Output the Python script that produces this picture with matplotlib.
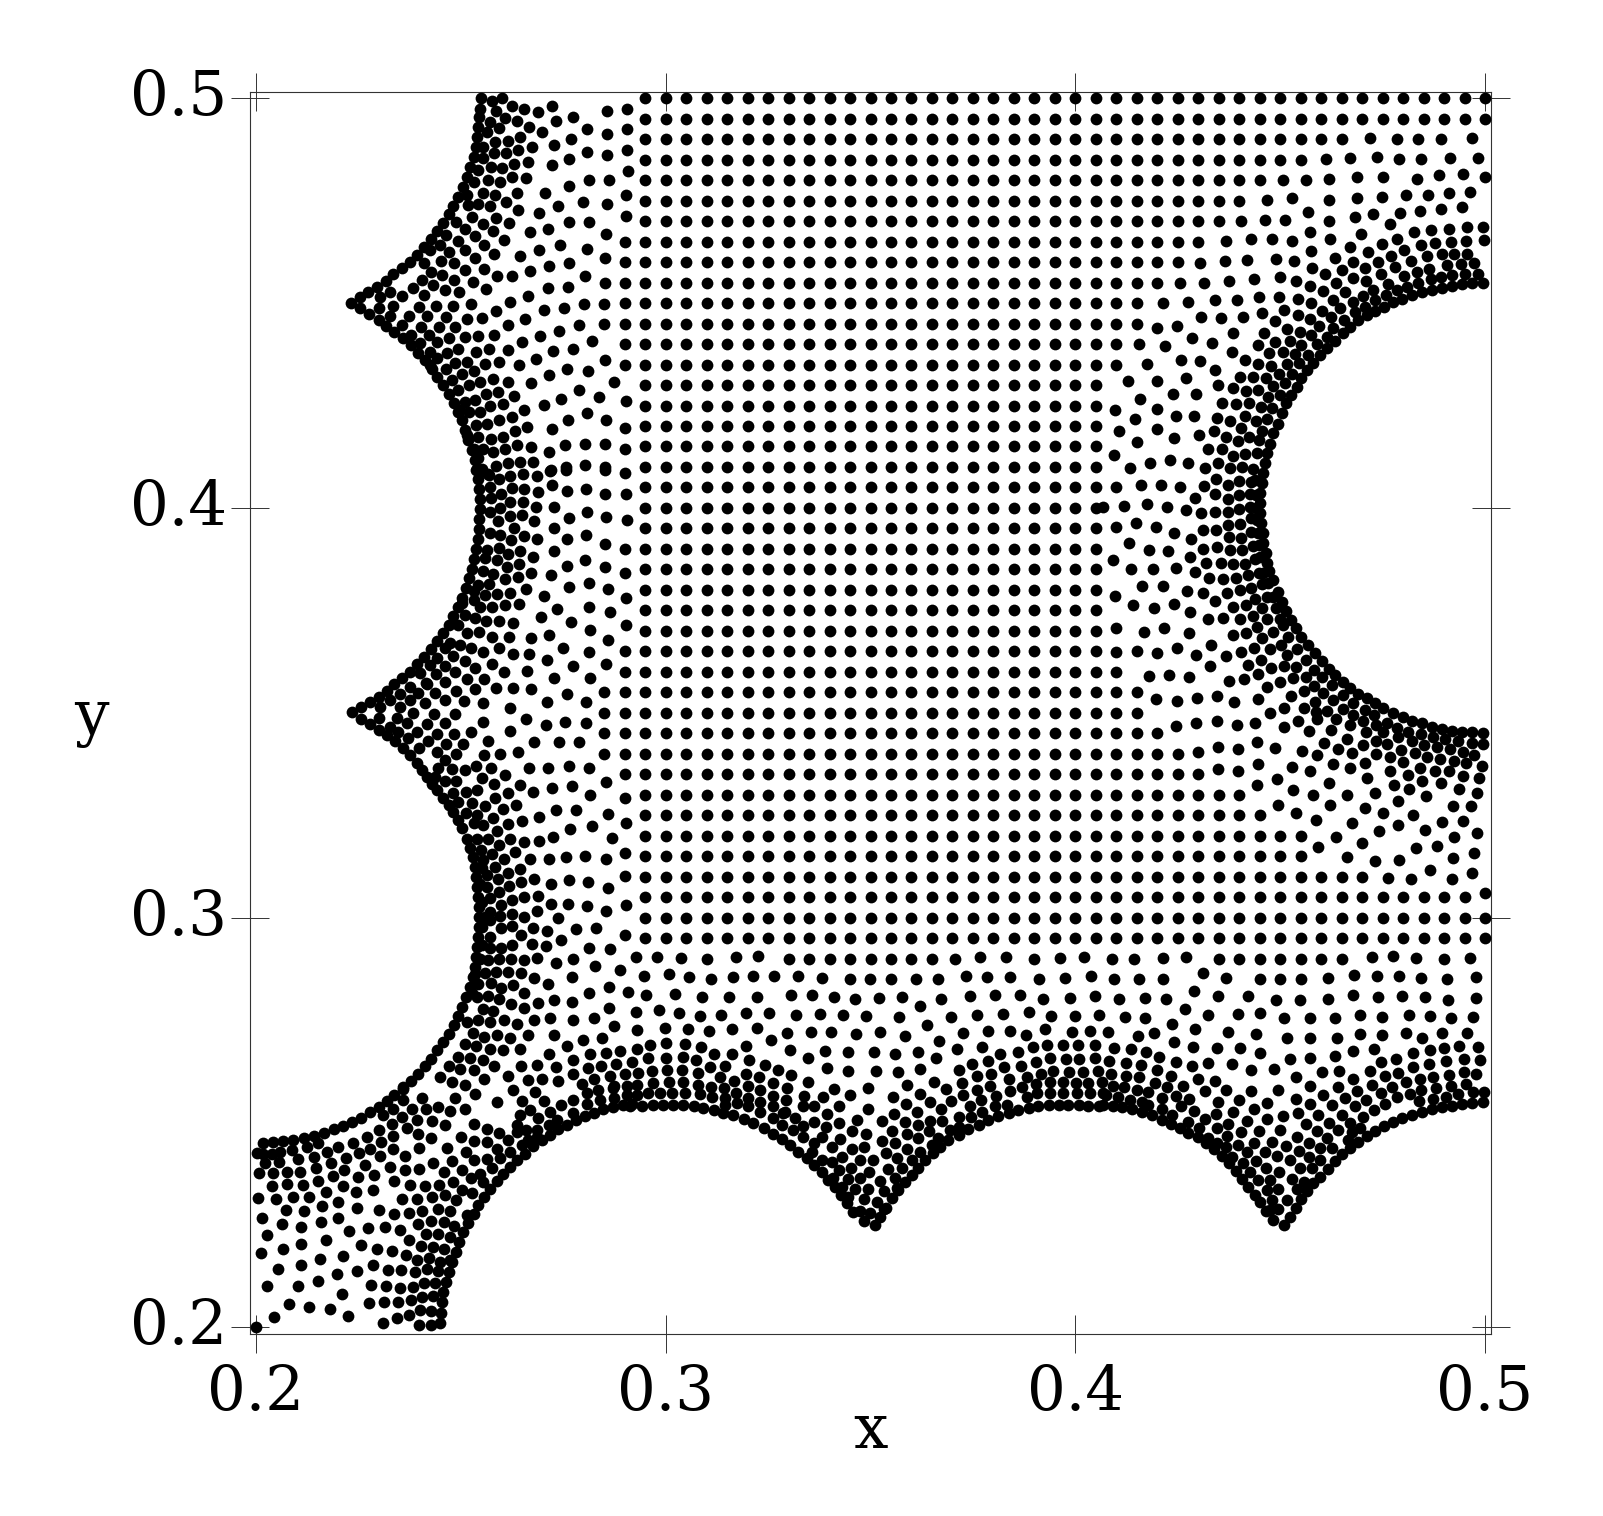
import numpy as np
import matplotlib
matplotlib.use("Agg")
import matplotlib.pyplot as plt

# all coordinates below are in thousandths of an axis unit

# the regular part of the point cloud: one row per y, filled from first to last column
lattice_x = [285, 290, 295, 300, 305, 310, 315, 320, 325, 330, 335, 340, 345, 350, 355, 360, 365, 370, 375, 380, 385, 390,
             395, 400, 405, 410, 415, 420, 425, 430, 435, 440, 445, 450, 455, 460, 465, 470, 475, 480, 485, 490, 495, 500]
lattice_y = [500, 495, 490, 485, 480, 475, 470, 465, 460, 455, 450, 445, 440, 435, 430, 425, 420, 415, 410, 405, 400,
             395, 390, 385, 380, 375, 370, 365, 360, 355, 350, 345, 340, 335, 330, 325, 320, 315, 310, 305, 300, 295]
row_first = [295, 295, 295, 295, 295, 295, 295, 290, 290, 290, 290, 290, 290, 290, 295, 295, 295, 295, 295, 295, 295,
             295, 295, 295, 295, 295, 295, 290, 290, 285, 285, 285, 285, 290, 295, 295, 295, 295, 295, 295, 295, 295]
row_last = [500, 500, 465, 455, 445, 440, 435, 430, 425, 420, 415, 415, 410, 410, 405, 405, 405, 405, 405, 405, 405,
            405, 405, 405, 405, 405, 405, 405, 405, 415, 415, 420, 425, 430, 440, 445, 455, 455, 470, 495, 500, 500]

# flat x, y, x, y ... lists, one per part of the picture
row_290 = [330, 290, 335, 290, 340, 290, 345, 290, 350, 290, 355, 290, 360, 290, 365, 290,
           435, 290, 440, 290, 445, 290, 450, 290, 455, 290, 460, 290, 465, 290]

right_upper = [
    471.9, 490.2, 478.6, 490, 483.7, 490, 489.3, 490, 496.8, 490.2, 461.1, 485.1, 467.1, 485.4, 473.7, 485.7, 479.1, 485.2,
    484.4, 485.2, 491.4, 485.4, 498.2, 485.5, 450.6, 480, 456.2, 480.1, 461.8, 480.2, 468.8, 480.7, 475, 480.9, 483.5, 480.2,
    488.8, 481.2, 494.6, 481.6, 499.9, 480.7, 446.9, 475.2, 453, 475.6, 462, 475.1, 468.8, 475.7, 474.8, 475.9, 480.6, 476.4,
    486.2, 476.3, 491.1, 477, 496.4, 477.2, 440.5, 470, 446.3, 470.3, 451.3, 470.4, 456.8, 472.2, 462, 470.1, 468.2, 471.1,
    472.7, 471.7, 479.3, 472.1, 484.1, 472.5, 489.2, 473, 494.4, 473.4, 436.7, 465.2, 442.9, 465.6, 447.9, 465.6, 452.8, 465.1,
    457.3, 467.3, 462.2, 465.6, 469.8, 466.9, 476.9, 469.2, 482.6, 467.3, 486.7, 467.8, 491.1, 468.2, 495.7, 468.6, 499.4, 468.7,
    430.4, 459.9, 436.5, 460.2, 441.9, 460.6, 448.9, 460.8, 453.5, 460.3, 457.6, 462.8, 463.4, 461.1, 467.1, 463.6, 471.5, 462.5,
    474.9, 464.4, 478.4, 465.7, 484.5, 464.3, 487.7, 464.6, 491.6, 464.9, 495.4, 465.1, 499.8, 465.4, 425.5, 455, 431.3, 455,
    437.4, 455.3, 443.7, 456, 449.9, 456.3, 453.9, 455.5, 457.8, 458.6, 461, 457, 465, 458, 467.8, 460.1, 470.7, 458.5,
    473.8, 460, 477, 461.6, 480.2, 462.9, 481.9, 460.2, 485.9, 461.4, 489.4, 462, 492.4, 462, 495.7, 462.1, 457.3, 454.2,
    463.7, 454.9, 467.9, 456.2, 471, 455.5, 474.5, 457, 478, 458.7, 483.5, 457.7, 486.4, 458.4, 490.8, 459.3, 494.2, 459.6,
    497.3, 459.7, 460.4, 452.9, 465.9, 452.6, 470.3, 451.8, 472.7, 453.2, 476.3, 454.6, 480.2, 456.6, 483.7, 455, 486.7, 455.8,
    489.2, 456.3, 492, 456.8, 495.1, 457.1, 498.4, 457.2, 478.4, 453.2, 480.9, 454, 475.8, 451.9, 473.2, 450.7, 470.7, 449.1,
    467.9, 450.3, 468.3, 447.9, 444.8, 451.6, 449.7, 451.6, 454.3, 450.9, 457.5, 450.1, 462.8, 450.7, 464.6, 448.7, 460.1, 448.1,
    462.4, 446.5, 465.6, 446, 457.3, 446.2, 454.4, 447.2, 451, 448.3, 445.6, 447.5, 448.8, 445.7, 441, 446.6, 435.6, 446.3,
    430.7, 446.7, 421.5, 450.1, 427.4, 450.3, 434.1, 450.8, 439.4, 450.8, 419.9, 444, 424.9, 444.5, 428.6, 441.5, 433.3, 440.3,
    438.6, 442.7, 415.6, 439.9, 422, 439.5, 438.3, 438, 444.5, 439.7, 446.1, 442.8, 451.7, 443.8, 454.8, 443, 459.6, 444.4,
    463, 444, 457.6, 442.3, 448.8, 440.6, 452.5, 440.7, 455.2, 439.7, 459.1, 440, 461.4, 441.8, 447.3, 437.8, 450.6, 438,
    453.6, 437.7, 456.9, 437.4, 441.5, 436.2, 444.7, 435.1, 447.8, 434.7, 451.6, 435.2, 454.6, 435.5, 417.4, 435.2, 425.7, 436.2,
    430.5, 435.8, 434.2, 433.6, 440.2, 432, 443.4, 432, 446.6, 431.8, 449.7, 432.6, 452.8, 432.8, 434.8, 430, 438.4, 429.2,
    441.7, 428.5, 444.7, 428.8, 448.3, 429.7, 451.2, 430.6, 447.1, 427.1, 450, 427.5, 435.9, 425.5, 439.2, 425.3, 442.4, 425.5,
    445.3, 424.7, 447.9, 424.3, 434.5, 422, 437.7, 421.3, 441.5, 422.5, 444, 421.2, 446.7, 421.6, 440.5, 419.6, 445.6, 418.8,
    433.8, 418.7, 436.8, 417.2, 439.8, 416.3, 442.4, 417.4, 444.9, 416.6, 432.5, 414.4, 435.9, 414.3, 438.6, 412.6, 441.4, 413.1,
    444.3, 413.3, 434.9, 411, 437.7, 409.8, 440.7, 409.9, 443.4, 409.6,
]

right_hole_edge = [
    499.4, 454.9, 496.8, 454.8, 494.3, 454.6, 491.9, 454.2, 489.4, 453.8, 487, 453.3, 484.6, 452.7, 482.1, 451.9, 479.8, 451.1,
    477.6, 450.3, 475.4, 449.1, 473.2, 448.1, 471.1, 447.1, 469.1, 445.9, 467.1, 444.2, 465.3, 442.6, 463.4, 440.7, 461.5, 439,
    459.7, 437.3, 458.1, 435.4, 456.6, 433.6, 455.2, 431.6, 454, 429.6, 452.6, 427.5, 451.4, 425.5, 450.4, 423.1, 449.5, 420.6,
    448.3, 418.2, 447.5, 415.7, 446.7, 413.3, 446.3, 410.9, 445.9, 408.5, 445.5, 406, 445.2, 403.6, 445.1, 401.1, 445.1, 398.7,
    445.4, 396.3, 445.7, 393.8, 445.9, 391.4, 446.5, 388.9, 446.7, 386.5, 447.3, 384.5, 448.3, 382.4, 449.4, 379.6, 450.4, 377.1,
    451.4, 374.9, 452.6, 372.7, 453.8, 370.6, 455.2, 368.6, 456.9, 366.5, 458.5, 364.5, 460.1, 362.6, 461.8, 360.8, 463.4, 359.2,
    465.3, 357.6, 467.1, 356, 469.1, 354.7, 471.1, 353.5, 473.2, 352.3, 475.2, 351.2, 477.6, 349.9, 479.9, 348.9, 482.3, 348.1,
    484.6, 347.5, 487, 346.6, 489.4, 346, 491.9, 345.5, 494.3, 345.3, 496.9, 345.2, 499.4, 345, 443.9, 406.8, 444, 403.2,
    444.1, 399.9, 444.3, 397, 444.7, 393.8, 444.9, 391, 445.1, 388.1, 445.9, 384, 447.1, 381.6, 448.3, 378.3, 449.1, 375.5,
    450, 373, 450.8, 371.4,
]

right_middle = [
    412.9, 430.9, 420, 431, 427, 431.6, 415.8, 426.7, 423.9, 427.9, 429.5, 427.8, 409.8, 423.8, 420, 424.2, 414.5, 421.8,
    424.6, 422.5, 429, 422.5, 410.6, 418.8, 419.9, 419.2, 415, 416.2, 424.1, 417, 430.2, 417.7, 409.5, 412.9, 418.3, 410.9,
    423, 411.6, 427.4, 410.9, 413.4, 409.8, 431.6, 409.8, 410, 405, 416, 405.5, 421, 405.7, 425.5, 405.1, 431.5, 405.3,
    429.2, 402.5, 406.8, 400.2, 411.9, 400.5, 417.6, 400.9, 422.4, 400.3, 427, 399.4, 410, 395.4, 414.9, 396.3, 419.8, 395.4,
    424.2, 394, 428.2, 392.3, 413.2, 391.5, 417.9, 389.7, 422.6, 389.4, 428.1, 388, 409.3, 387.4, 413.7, 385.2, 419, 385,
    424.5, 385.4, 429.2, 384.4, 416.3, 380.9, 421.5, 380.9, 427.2, 379.8, 431.2, 379.3, 409.7, 378.5, 414.1, 376.2, 419.1, 375.6,
    424, 376.5, 428.1, 374.5, 409.9, 370.7, 416.7, 369.7, 421.7, 370.6, 427.8, 369.5, 409.9, 364.9, 415, 365, 419.9, 364.7,
    424.8, 365.7, 429.4, 364.1, 433.2, 366.5, 436.8, 363.9, 409.9, 359.9, 417.9, 359.1, 422.9, 359.2, 427.8, 358.7, 432.9, 361.3,
    437.4, 357.8, 441.2, 358.2, 419.7, 353.4, 424.7, 352.9, 429.6, 353.7, 434.6, 354.2, 438.8, 352.6, 444.7, 353.4, 434.4, 407,
    437.3, 405.7, 440, 406.6, 442.9, 406.3, 434.2, 403.4, 437.3, 402.1, 439.9, 403.1, 442.6, 403.4, 434.1, 399.1, 430.7, 398.8,
    437.3, 399, 440, 399.7, 442.6, 400.2, 431.1, 394.7, 434.4, 394.6, 437.3, 395.8, 440.2, 396.1, 442.8, 397.5, 437.6, 392.8,
    440.4, 392.6, 442.8, 394.1, 431.2, 390, 434.7, 390.5, 437.7, 389.7, 440.6, 389.7, 443.3, 390.7, 432, 386.6, 435.5, 386.6,
    438.6, 386.2, 441.5, 386.4, 443.9, 387.5, 432.7, 383, 436.1, 382.7, 439.2, 382.9, 442.1, 383.6, 444.8, 384, 437, 379.3,
    440.2, 380, 443, 380.5, 445.6, 381.4, 434.2, 377.3, 438.4, 375.7, 441.6, 376.2, 443.9, 377.8, 446.7, 378.2, 445.6, 375.5,
    436, 373.2, 432.3, 372.8, 440.3, 373, 443.3, 373.7, 446.7, 372.8, 444.4, 370.9, 438.4, 369, 441.7, 369.4, 448.2, 369.6,
    445.6, 368.2, 452, 368.6, 443.5, 365.9, 440.4, 364.9, 447.5, 365.5, 450.2, 366.5, 454, 365.5, 451.7, 364.1, 445.3, 363,
    442.2, 361.7, 447.8, 361, 450.9, 361.3, 453.9, 361.2, 456.3, 362.9, 444.7, 359.5, 453.2, 358.4, 456.2, 358.8, 458.3, 360.4,
    460.1, 358.8, 446.9, 356.4, 450, 357.4, 458.2, 356.6, 455.7, 355.3, 460.5, 354.9, 452.6, 354.2, 463, 353.1, 458.6, 352.7,
    465.4, 354.3, 467.9, 352.3, 462.6, 356.8,
]

right_lower = [
    447.6, 349.9, 451, 351.2, 455.8, 351.1, 458.7, 350.2, 461.4, 350.5, 465.4, 350.9, 467.9, 349.5, 470.7, 350.7, 472.8, 349.5,
    454.4, 348.1, 458.9, 348.4, 463.6, 348.6, 470.3, 348.1, 467, 346.9, 473.3, 346.9, 476.2, 347.6, 478.4, 346.2, 481.3, 345.4,
    484.4, 344.9, 487.4, 344.2, 490.3, 343.6, 493.5, 343.2, 496.8, 342.6, 499.6, 342.4, 471, 345.2, 475.2, 345.2, 478.7, 344,
    482.1, 343, 485, 342.2, 488.2, 341.6, 491.5, 341.1, 494.6, 340.5, 497.3, 339.8, 424.6, 346.8, 429.5, 347.5, 434.5, 347.9,
    439.4, 347.1, 443.9, 347.6, 451, 346.6, 457, 345.5, 462.3, 345.7, 466.2, 343.7, 460.8, 342.7, 470.2, 342.2, 473.3, 343,
    476.2, 342.3, 479.5, 341, 482.8, 340.3, 485.8, 339.2, 489, 338.7, 492.4, 338.3, 429.9, 340.5, 434.8, 341.6, 439.8, 341.2,
    444.4, 342.9, 448.7, 341.4, 455.4, 340.6, 459, 339.6, 464, 341.1, 467.5, 340.2, 473.3, 339.9, 476.7, 339.1, 480.1, 338.1,
    476.8, 335.8, 481.1, 334.8, 484.1, 336.5, 487.8, 335.9, 491.1, 335.7, 495.4, 337.7, 499.3, 337, 434.9, 336.2, 439.8, 335.8,
    444.6, 337.4, 453, 336.8, 457.3, 335.7, 461.8, 332.9, 463, 337.6, 467.1, 336.5, 470.7, 337.7, 471.1, 334, 477.8, 332.4,
    481.5, 331.3, 484.7, 333.3, 489.2, 332.8, 494.6, 334.6, 498.5, 334, 444.4, 332.4, 449.2, 333.8, 453.2, 331.1, 458, 330,
    462.2, 327.4, 466.2, 330, 470.8, 326.7, 473.2, 330.4, 478.8, 328.5, 482.5, 325, 485.6, 329.7, 489.4, 323.4, 492.1, 327.2,
    496.6, 327.2, 494.6, 323.7, 498.1, 330.5, 493.7, 331.4, 449.4, 327.6, 453.9, 325.6, 458.7, 323.8, 467.5, 323, 475.2, 325.6,
    459.3, 317.3, 463.6, 319.8, 469.9, 318.3, 474.1, 321.2, 478.7, 322.5, 485.4, 321.3, 492.5, 319.6, 498.1, 320.6, 466.4, 314.7,
    473.1, 313.8, 478.9, 314.1, 483.1, 316.9, 488.4, 317.4, 492.2, 314.5, 497.3, 315.8, 476.4, 309.7, 481.9, 309.4, 486.6, 311.6,
    492, 309.4, 496.8, 310.8, 499.9, 306.1, 409, 290, 414.3, 290, 421.3, 290.2, 426.9, 290.3, 472.3, 290.5, 477.6, 290.6,
    483.2, 290.2, 490, 289.9, 496.4, 290.2, 409.4, 285, 415.5, 285.1, 421.3, 285.1, 431.2, 286.6, 436.9, 285.3, 445, 284.9,
    450, 284.9, 455, 284.9, 461.6, 285.2, 468, 286, 473.6, 285.8, 479.1, 285.8, 484.3, 285.3, 490.8, 285, 497.8, 285.4,
    410.6, 280.1, 416.9, 280.3, 422.2, 280.2, 428.9, 282.2, 434.8, 280.8, 442.1, 280.8, 448.9, 280, 454.9, 279.9, 461.7, 280.2,
    467.9, 281, 474, 280.7, 479.7, 280.9, 485.4, 280.5, 491, 280, 497.7, 280.3,
]

cusp_450 = [
    412.1, 275.8, 417, 275.5, 423.7, 274, 426.8, 277.6, 432.5, 276.3, 439.6, 276.5, 445.2, 276.6, 451, 275.5, 457.4, 275.5,
    463.3, 275.5, 469.5, 276.2, 474.9, 275.8, 481.5, 276.3, 486.5, 275.9, 491.8, 275.4, 497.1, 275.8, 415.4, 271.1, 419.2, 271.8,
    429.2, 272.8, 437.3, 272, 444.1, 271.7, 451.6, 270.5, 457.4, 270.5, 463.8, 270.5, 469.5, 271.5, 474.9, 271.3, 480.7, 271.9,
    484.6, 270.7, 489.5, 271.9, 495.5, 271.9, 409.4, 268.2, 413.5, 267.9, 417.2, 267.3, 424, 269.6, 428.8, 268.3, 434.7, 268.1,
    440.2, 268.2, 445.2, 266.9, 452.4, 265.6, 457.3, 265.7, 463.4, 266.1, 467.9, 267.4, 473, 267.9, 482.4, 266.9, 486.6, 267.6,
    490.1, 268.2, 493.7, 268.7, 498.4, 268.4, 408.3, 265, 412.4, 264.6, 416.1, 264.1, 420.5, 266, 424.6, 264.7, 428.6, 263.9,
    432.5, 264.5, 438.3, 264.2, 442.9, 262.8, 448.5, 263, 453.8, 261.1, 460.2, 262.4, 464.4, 262.6, 467.7, 260.7, 471.9, 262.6,
    474.6, 264.7, 478.3, 265.4, 482.5, 263.5, 486.3, 264.3, 490.6, 264.9, 494.9, 265.5, 498.8, 265.2, 408.7, 261.8, 412.3, 261.3,
    415.6, 261, 420, 262.7, 423.3, 261.4, 430, 260.6, 434, 260.2, 457.4, 258.8, 464, 258.6, 468.8, 257.7, 472.3, 259.2,
    475.6, 261.3, 478.7, 262.1, 484.1, 260.7, 487.3, 261.2, 491.1, 261.7, 494.9, 262.3, 497.7, 261.8, 409.1, 258.9, 412, 258.6,
    415.1, 257.9, 419.5, 259.6, 422.3, 258.6, 426.4, 258.9, 431.7, 257.7, 436.8, 257.9, 442.9, 257.7, 449.5, 257.8, 460.5, 256.7,
    465.8, 255.9, 471, 255.4, 474.7, 257.2, 477.4, 258.7, 480.8, 259.8, 484.3, 257.9, 488.1, 258.5, 491.6, 259, 495.3, 259.5,
    417.8, 257.4, 421.2, 255.9, 424.5, 256.5, 427.8, 255.8, 434.9, 255, 439.9, 255.6, 446.9, 254.7, 453.8, 255.8, 457.4, 254.6,
    462.7, 254.2, 468.3, 253.9, 475.6, 254.4, 478.4, 256.1, 481.7, 257, 484, 255.3, 487.4, 255.8, 490.5, 256.3, 493.5, 256.9,
    497, 257.5, 499.8, 257.5, 499.4, 255, 496.8, 254.7, 494.3, 254.4, 491.9, 254, 489.4, 253.7, 487, 253.3, 484.6, 252.6,
    482.1, 251.8, 479.8, 251, 477.6, 250.2, 475.4, 249.1, 473.2, 247.9, 471.1, 246.7, 469.1, 245.3, 467.1, 243.7, 465, 242.3,
    463.4, 240.7, 461.6, 238.6, 459.7, 236.8, 458.1, 235.1, 456.6, 233.3, 455.2, 231.3, 453.8, 229, 452.4, 227, 451, 224.9,
    448.2, 226.1, 446.5, 228.5, 445.2, 230.5, 443.9, 232.3, 442.2, 234.3, 440.6, 236.3, 439.2, 238.2, 437.6, 240, 435.7, 241.8,
    433.8, 243.5, 431.9, 245, 429.9, 246.4, 427.6, 247.5, 425.5, 248.6, 423.3, 249.6, 421.1, 250.6, 418.8, 251.7, 416.3, 252.6,
    413.9, 253.3, 411.5, 253.7, 409.1, 254, 406.7, 254.3, 407.6, 256.7, 410.5, 256.3, 413.3, 255.6, 416.2, 255.1, 417.8, 254.3,
    421.1, 253.4, 423.5, 251.8, 425.7, 253.9, 429, 252.8, 427.6, 250.2, 431.6, 250.8, 434.3, 252, 438.4, 252.5, 443.7, 253.2,
    434.5, 248.6, 437.2, 249.6, 441.8, 250.3, 446.9, 250.8, 450.6, 251.6, 454.4, 252.2, 459.2, 251.7, 461.8, 249.8, 465, 251.8,
    467.1, 249.9, 470.1, 251.4, 472.8, 253, 430.1, 248.6, 432.5, 246.1, 437.1, 246.7, 440.4, 247.6, 444.9, 248, 450, 248.1,
    456.3, 249.5, 459.1, 248, 464, 248.2, 469.5, 248.6, 434.5, 244.9, 436.8, 244.1, 439.6, 244.5, 443.5, 245, 448, 245.3,
    451.4, 244.2, 454.2, 246.4, 457, 245.1, 461.4, 246.1, 466.6, 245.7, 467.5, 247.7, 438.2, 241.6, 441.8, 242.9, 446.3, 242.7,
    449.2, 241.9, 454.6, 243.1, 457.1, 241.6, 459.7, 243.7, 462.6, 243.7, 441, 240, 444.1, 240.6, 452.4, 240.8, 459.7, 240.8,
    442.6, 238, 446.5, 238.8, 449.7, 237.8, 454.8, 239, 457.7, 238.8, 444.7, 235.9, 447.5, 235.9, 452.8, 236.2, 455.8, 235.5,
    446.7, 233.5, 449.5, 233.7, 454, 233.7, 447.9, 231, 451.7, 231, 449.5, 228.9, 447.5, 228.6,
]

cusp_350 = [
    292.8, 290.5, 298, 290.3, 303.7, 290.1, 310.2, 289.9, 317.2, 290.5, 322.5, 290.7, 370.7, 289.9, 376.8, 290.3, 383, 290.3,
    389.8, 289.9, 396.3, 290.1, 402, 290.3, 294.6, 285.8, 300.7, 286.2, 305.6, 285.5, 311.1, 285, 316.5, 285.5, 321.4, 285.8,
    326.5, 285.8, 332.3, 285.7, 338.1, 285.3, 345, 285, 349.9, 285, 355, 285, 361.2, 285.1, 366.4, 285.1, 373.3, 285.7,
    378.4, 285.6, 384.1, 285.4, 391.1, 285.1, 397.5, 285.2, 403.8, 285.8, 295.2, 281, 302.3, 281.4, 308.9, 280.6, 315.4, 280.7,
    322.3, 280.7, 330.5, 281.1, 335.6, 281, 341.1, 280.6, 346.2, 280.1, 352, 280.4, 357.6, 280.6, 362.2, 278.5, 367.3, 280.1,
    374.2, 280.8, 380.4, 281, 386.4, 281, 392, 280.2, 398.6, 280.4, 404.9, 280.8, 292.8, 277, 298.4, 277.4, 303.3, 276.8,
    308.3, 275.9, 313.5, 276.2, 319.5, 276.8, 325.2, 276.8, 331.8, 276.2, 337.6, 276.5, 343.2, 276.2, 349, 275.9, 356.9, 275.7,
    363.7, 273.8, 369.6, 275.8, 376, 276.2, 382.3, 276.5, 388.7, 276.9, 394.1, 276.1, 400, 275.9, 405.7, 276.2, 292.9, 272.6,
    299.9, 273, 305.5, 272.9, 310.5, 272.3, 316.3, 272.7, 322.2, 273.1, 329.7, 271.9, 335.5, 272.2, 340.3, 272, 346.4, 271.7,
    352.3, 272.2, 358.5, 271, 372.5, 271.9, 378.6, 272.4, 384, 272.4, 388, 271.4, 392.7, 272.7, 399.2, 272.2, 403.6, 272.4,
    407.9, 272, 325.7, 270.1, 366.6, 269.9, 292.9, 267.9, 296.2, 268.8, 300.1, 269.3, 304.8, 269.2, 308.6, 268.3, 311.8, 266.7,
    316.2, 266.8, 319.5, 268.7, 330.3, 267.7, 338.8, 267.5, 344.5, 267.1, 350.9, 267.3, 355.9, 266.8, 361.5, 267.3, 371.2, 267.9,
    377.3, 268.5, 381.6, 266.7, 386, 267.1, 389.7, 268.3, 393.1, 269, 397, 268.8, 400.6, 268.8, 404.7, 269, 291.7, 264.7,
    295.8, 265.7, 300, 265.8, 304.2, 265.9, 307.5, 265.2, 310.8, 263.6, 314.5, 263.9, 320.3, 265.3, 324.2, 264, 334.8, 265.7,
    365.9, 265.7, 374.7, 264.3, 378.6, 265.1, 382.5, 263.5, 386.7, 263.9, 390.4, 264.8, 393.8, 265.7, 397.6, 265.5, 401, 265.5,
    404.9, 265.7, 293.3, 262, 296.6, 262.5, 300.4, 262.8, 303.9, 262.8, 308, 262, 313.3, 261, 319.6, 261.9, 322.7, 261.1,
    327.5, 262.7, 330.7, 261.6, 339.3, 263.2, 344.4, 262.5, 351.3, 262.5, 356.6, 262.3, 362.2, 263.1, 371.6, 262.8, 376.1, 261.3,
    379.5, 261.8, 383.7, 260.5, 388.2, 261.2, 391.6, 261.9, 394.6, 262.6, 398.4, 262.4, 401.8, 262.4, 405.5, 262.6, 293.1, 259.1,
    296.8, 259.6, 300.7, 259.8, 304.3, 259.8, 308, 259.1, 311, 258.7, 314.3, 258.3, 316.7, 260, 320, 258.9, 323, 257.8,
    326.2, 259.6, 329.7, 258.3, 334.7, 259.8, 341.1, 258.1, 349.3, 258.5, 359, 259.1, 365.5, 259.9, 368.5, 258.1, 372.3, 259.6,
    376, 257.9, 379.1, 258.9, 386.9, 258.7, 390.4, 259.3, 393.9, 259.8, 397.1, 259.8, 400.2, 259.6, 403, 259.6, 406.5, 259.8,
    292.9, 256.7, 295.8, 257.1, 298.6, 257.1, 301.6, 257.3, 304.7, 257.3, 308.4, 257, 311.2, 256.3, 314.5, 255.9, 317.2, 257.1,
    320.2, 256, 323, 254.9, 326.3, 256.5, 329.4, 255.5, 333.7, 256.5, 338.3, 256.1, 344.9, 256.6, 355.5, 256.1, 362, 257,
    372.7, 256.7, 377, 255.6, 380.6, 256.5, 384.1, 257.7, 388.2, 256.3, 390.6, 257.1, 393.9, 257.1, 397.1, 257.1, 400.4, 257.1,
    403.5, 257.1, 406.7, 257.1, 291.3, 253.9, 294.1, 254.1, 297, 254.3, 299.4, 254.3, 301.9, 254.3, 304.3, 254.3, 306.8, 253.9,
    309.2, 253.6, 311.7, 253, 314.1, 252.4, 316.5, 251.8, 319, 250.8, 321.4, 249.8, 323.9, 248.6, 326.1, 247.3, 328.3, 245.9,
    330.4, 244.5, 332.4, 242.9, 334.4, 241.2, 336.1, 239.6, 338.1, 238, 339.7, 235.9, 341.4, 234.2, 342.7, 232.3, 344.2, 230.4,
    345.8, 228.2, 348.3, 226, 351.1, 225, 352.3, 227, 353.8, 229.2, 355.2, 231.5, 356.8, 233.5, 358.5, 235.5, 360.1, 237.2,
    361.7, 238.8, 363.3, 240.8, 365.2, 242.5, 367, 244.1, 369, 245.6, 371.5, 247, 373.9, 248.3, 376.4, 249.4, 378.8, 250.6,
    381.2, 251.6, 383.7, 252.4, 386.1, 253, 388.6, 253.6, 391, 254.1, 393.5, 254.3, 395.9, 254.3, 398.3, 254.3, 400.8, 254.3,
    403.2, 254.1, 405.7, 254, 314.5, 254.3, 317.3, 254.7, 320.2, 253.9, 323, 252.6, 326.3, 253.9, 329.2, 252.6, 333.6, 253.9,
    336.1, 253.9, 342.3, 253.9, 349.4, 253.2, 358.7, 254.6, 364.6, 254.9, 369.7, 255.2, 374.3, 253.9, 377.2, 252.6, 380.4, 253.9,
    383.3, 254.3, 326.3, 251, 331.6, 251, 328.7, 252.2, 336.2, 250, 339.3, 252.1, 346.7, 250.7, 355.8, 252.1, 361.3, 252.6,
    367.2, 253.2, 371.5, 251.4, 374.5, 251.4, 328.3, 249.4, 331, 248.2, 333.6, 249.2, 339.2, 249, 342.2, 249.8, 352.9, 250.4,
    358.5, 250.2, 361.5, 249.4, 364.6, 250.4, 367.4, 250.4, 371.5, 249, 333.6, 246.5, 336.1, 245.1, 338.1, 246.4, 342.6, 245.9,
    345.4, 247.8, 349, 247.3, 355.2, 247.9, 358.9, 247.3, 361.7, 246.1, 364.2, 248, 366.4, 246.1, 369.3, 248.2, 335.7, 242.9,
    340.5, 244.1, 345.4, 243.4, 348.5, 243.9, 352.8, 245.5, 356, 244.9, 358.9, 243.5, 362, 242.9, 365, 244.5, 338.1, 240.8,
    340.5, 240.4, 343, 241.6, 347.5, 240.8, 350.7, 240.8, 353.8, 242.6, 356.4, 241.2, 360.1, 240.8, 342.2, 238.4, 345.2, 239,
    349.7, 237.8, 354.2, 238.6, 357.6, 239, 340.9, 236.4, 344.6, 236.1, 347.5, 236.4, 352.4, 235.8, 356, 236.5, 343, 234.2,
    346.2, 233.7, 349.3, 233.7, 353.3, 233.3, 356.4, 233.9, 344.6, 231.9, 348.3, 231.2, 351.5, 230.5, 347.5, 228.4, 349.9, 228,
    353.2, 228.8,
]

left_hole = [
    255.1, 334.2, 260.8, 334.9, 258.2, 332.7, 264.5, 332.4, 272.2, 331.6, 277.1, 332.1, 285.4, 333.1, 253.9, 331.1, 251.3, 330.7,
    261.4, 330.5, 267.7, 330.6, 281.6, 329.9, 290, 329.1, 258.4, 329.2, 252.7, 327.9, 255.9, 327.3, 263.4, 327.5, 260.2, 326.5,
    273.3, 326.2, 278.1, 326.2, 285.9, 325.4, 251.3, 325.6, 253.9, 325, 257.9, 324.2, 269.2, 324.5, 264.9, 323.5, 261.6, 322.9,
    290.3, 323.1, 253.1, 323, 255.5, 322.6, 281.9, 322.3, 276.7, 321.6, 258.8, 321.1, 272.4, 319.8, 286.8, 319.5, 253.9, 319.3,
    256.6, 319.1, 262.1, 319.1, 265.4, 318.5, 269, 318.7, 259.3, 317.8, 254.9, 316.5, 257.5, 315.6, 263.1, 316, 275.7, 314.8,
    280.4, 315.1, 290.1, 315.8, 285.4, 314.2, 266.9, 314.2, 271.4, 314.3, 260.6, 314.3, 255.5, 314, 258.4, 312.3, 264.4, 311.9,
    261.5, 310.9, 256.3, 310.4, 290.1, 310.2, 267.8, 309.5, 276.4, 309.1, 259.1, 309.4, 272.1, 308.3, 281.1, 308.6, 264.6, 308.8,
    261.8, 307.7, 285.8, 307.3, 256.3, 307.5, 259.3, 306.2, 265.4, 305.1, 268.8, 305.2, 262.4, 304.3, 257.2, 304.7, 271.9, 303.4,
    276.1, 303.4, 280.7, 302.8, 290.3, 303.2, 259.7, 303.2, 285.5, 301.7, 268.7, 301.6, 262.6, 300.9, 265.5, 300.2, 259.6, 300.3,
    257.1, 301.4, 273.7, 299.9, 257.1, 299.4, 278.1, 297.2, 282.9, 297.4, 267.6, 297.5, 271.1, 296.8, 262.4, 297.9, 259.7, 297.5,
    264.8, 295.7, 290.1, 295.7, 257.1, 295.3, 274.5, 294.6, 267.3, 293.6, 270.8, 293, 262.6, 293.2, 259.7, 292.7, 257.1, 292.6,
    281.2, 292.6, 286.3, 292.4, 268.7, 290.2, 277.5, 289.8, 265.3, 289.6, 262.3, 289.9, 259.3, 289.9, 256.6, 289.6, 273.2, 288.8,
    282.8, 288.1, 288.9, 287.2, 261.5, 286.8, 258.6, 286.8, 255.9, 286.6, 264.6, 286.6, 267.9, 285.3, 277.2, 285.4, 262.8, 283.5,
    271.2, 283.7, 259.7, 282.9, 257.3, 284.1, 286.1, 283, 281.4, 281.5, 290.7, 281.9, 265.5, 281.5, 256.6, 280.8, 253.9, 280.6,
    259.3, 280.1, 272.8, 279.8, 268.9, 279.2, 277.1, 279.4, 262.3, 278.8, 265.5, 278, 286.1, 278, 255.3, 277.8, 257.9, 277.1,
    254.3, 275, 260.5, 275.1, 257.2, 274.4, 267.8, 275.1, 271.8, 275.4, 277.5, 275, 282.4, 275.6, 263.8, 274, 287.3, 273.6,
    251.4, 274.4, 252.9, 271.9, 258.8, 271.3, 255.6, 270.9, 261.9, 270.6, 266.3, 271.4, 272.8, 271.3, 279.9, 270.1, 284.4, 270.7,
    251, 269.1, 253.7, 268.6, 257, 268, 260.2, 267.6, 264.5, 268, 275.9, 268.7, 249.4, 266, 252.3, 265.8, 255.3, 265.3,
    271.4, 266.6, 277.5, 265.3, 281.6, 266.7, 285.4, 267, 288.8, 267.5, 247, 263.7, 249.9, 263.1, 253.2, 262.7, 258.2, 263.7,
    264.8, 263.7, 268.7, 264, 273.2, 263.6, 281.1, 263.3, 284.2, 263.8, 287.9, 264.2, 244.9, 261, 247.9, 259.9, 251, 259.1,
    255.7, 260.7, 261.5, 261.4, 266.3, 260.3, 269.7, 260.7, 273.6, 260, 277.5, 261.9, 282.6, 260.5, 286.4, 261.3, 290.1, 261.8,
    279.5, 259.5, 287.3, 258.8, 290.5, 259, 240.4, 336, 241.7, 334.4, 242.9, 332.7, 244.3, 331.1, 245.7, 329.3, 247, 327.5,
    248.2, 325.8, 249.4, 323.8, 250.4, 321.8, 251.4, 319.3, 252.3, 317.1, 252.9, 314.7, 253.4, 312.4, 253.7, 310, 254, 307.5,
    254.3, 305.1, 254.5, 302.6, 254.5, 300.2, 254.5, 297.7, 254.3, 295.3, 254, 292.9, 253.7, 290.4, 253.4, 288, 252.9, 285.5,
    252.3, 283.1, 251.3, 280.6, 250.4, 278.2, 249.4, 275.9, 248.3, 273.7, 247.1, 271.7, 245.7, 269.7, 244.3, 267.6, 242.7, 265.6,
    241.3, 263.7, 239.6, 261.9, 237.8, 260.1, 235.8, 258.7, 243.7, 334.4, 246.1, 333.4, 248.8, 333.4, 248.2, 330.5, 249.2, 328.3,
    255.1, 312.1, 254.7, 308.3, 255.1, 303.8, 255.9, 300.2, 255.1, 297.7, 255.1, 293.3, 254.7, 290, 253.5, 286.3, 254.3, 283.9,
    252.7, 281.5,
]

cusp_left_350 = [
    262.1, 407.9, 265.1, 408.2, 268.5, 407.9, 271.8, 408.9, 275.6, 409.3, 285.2, 409.3, 290.1, 408.6, 259.3, 407.1, 262.4, 404.9,
    265.5, 404.7, 268.8, 404, 272.2, 405.5, 275.9, 404.1, 280.5, 404.7, 285.3, 403.5, 290.3, 403.3, 257, 405.2, 259.8, 403.5,
    257.4, 402.4, 262, 401.5, 265.1, 401.4, 268.3, 400.2, 272.8, 400.2, 259.6, 399.9, 257.1, 399.1, 280.7, 399, 276.3, 397.6,
    261.9, 398.1, 264.9, 398.3, 285.5, 397.7, 290.5, 397.1, 259, 396.8, 267.9, 396.7, 262.9, 395.2, 272.8, 395, 257.1, 394,
    259.6, 393.4, 265.4, 393.2, 268.6, 392.4, 280.6, 393.3, 276, 392.3, 262.3, 392.2, 285.1, 391.2, 290, 390.1, 259.2, 390.3,
    272.8, 389.6, 264.5, 389.5, 261.5, 388.7, 256.3, 389.8, 267.6, 388.1, 255.9, 387.7, 258.8, 387.3, 280.4, 387.2, 275.8, 385.9,
    264.3, 386.3, 261.2, 385.6, 285.2, 385.6, 290.1, 384.2, 255.3, 384.5, 257.9, 383.8, 267.1, 384.1, 272.1, 383.7, 263.9, 383.1,
    260.7, 382.7, 254.3, 381.2, 256.8, 381.4, 281.2, 381.8, 276.4, 380.7, 265.8, 380.3, 285.9, 380.2, 253.1, 379.8, 255.9, 378.8,
    258.9, 379, 262, 379.2, 270.3, 378.4, 290.3, 378, 253.1, 377.6, 260.8, 376.2, 257.7, 375.8, 264.1, 376.5, 254.7, 375.8,
    273.4, 375.4, 281.4, 375.8, 286.3, 374.5, 269.5, 373.4, 253.5, 373.1, 256.2, 372.3, 259.3, 372.3, 262.7, 372, 276.8, 372.1,
    290.3, 371.4, 251.6, 369.4, 254.5, 369.6, 281.5, 370.1, 271.5, 369.1, 257.5, 368.6, 261.8, 368.6, 267.1, 368.3, 285.9, 367.7,
    249.8, 366.6, 252.6, 365.9, 259.4, 365.8, 275, 365.9, 255.5, 364.8, 262.7, 364.4, 266.7, 364.3, 281.4, 364.9, 246.1, 365.9,
    248.2, 363.9, 250.9, 362.7, 271, 363, 257.5, 362, 285.4, 361.9, 277.5, 361.4, 253.5, 361, 246.1, 361.4, 266.2, 360.2,
    260.6, 360, 248.6, 359.9, 243.9, 359.5, 281.6, 358.5, 272.8, 358.4, 251.4, 358.3, 255.7, 358.3, 246.1, 357.4, 241.5, 357.2,
    248.7, 355.4, 253.5, 355.7, 258.5, 356.1, 262.7, 356.1, 267.2, 355.7, 243.7, 354.9, 275.9, 354.5, 250.8, 352.9, 271.1, 352.7,
    280.6, 352.6, 246.1, 353, 255.3, 352.4, 241.3, 352.3, 262, 351.1, 237.6, 353.1, 235.2, 351.5, 238.4, 349.9, 243.5, 349.8,
    248.6, 349.6, 229.9, 348.7, 234.3, 348.8, 246.1, 347.4, 241.7, 347.2, 236.8, 347.4, 255.3, 347.7, 265.8, 348.4, 275.5, 347.7,
    280.6, 347.5, 270.7, 346.9, 262, 345.6, 252.5, 345.2, 239.2, 345.4, 234.7, 345.4, 244.1, 344.8, 248.3, 344.7, 237.2, 343.8,
    241.9, 343.1, 256.6, 343.2, 267.9, 342.8, 273.9, 342.9, 278.9, 342.8, 250.6, 342.3, 246.3, 342.4, 239.8, 341.3, 244.1, 340.5,
    259.5, 340, 263.9, 340.4, 248.8, 339.9, 255.7, 339.7, 246.2, 338.5, 276.3, 337.1, 281.2, 336.4, 271.3, 336.6, 266.7, 336.6,
    257.3, 336.6, 253.7, 337.1, 250.9, 336, 247.9, 336.3, 244.5, 336.4, 223.4, 350.2, 225.6, 351.3, 227.8, 352.6, 230, 353.9,
    231.9, 355.3, 233.7, 357, 235.6, 358.4, 237.6, 360, 239.4, 361.9, 241, 363.7, 242.7, 365.6, 244.3, 367.5, 245.7, 369.4,
    247, 371.4, 248.2, 373.7, 249.4, 375.9, 250.4, 378, 251.3, 380.4, 252.1, 382.8, 252.8, 385.1, 253.3, 387.5, 253.7, 389.9,
    254.1, 392.4, 254.4, 394.8, 254.5, 397.3, 254.7, 399.7, 254.7, 402.1, 254.4, 404.6, 254.1, 407, 253.7, 409.3, 225.6, 348.6,
    227.8, 347.3, 229.9, 345.8, 231.9, 344.6, 233.9, 343, 235.8, 341.5, 237.6, 339.7, 239.4, 337.8, 230.3, 351.5, 232.7, 353.1,
    235.2, 354.6, 237.6, 356.4, 239.6, 354.9, 241.7, 357, 244.3, 363.3, 240, 359.6, 242.5, 361.7, 247.4, 367, 249.4, 371.4,
    251, 373.9, 250.2, 376.7, 232.7, 346.6, 255.1, 408.9, 256.9, 408.1,
]

cusp_left_450 = [
    223.2, 450.1, 225.4, 451.4, 227.4, 452.6, 229.5, 454, 231.7, 455.4, 233.5, 457, 235.6, 458.5, 237.6, 460.1, 239.4, 461.7,
    241, 463.8, 242.6, 465.6, 244.3, 467.6, 245.6, 469.5, 247, 471.7, 248.2, 473.8, 249.4, 476, 250.5, 478.4, 251.4, 480.8,
    252.2, 483.3, 253.1, 485.7, 253.6, 488.2, 254, 490.6, 254.3, 493.1, 254.5, 495.5, 254.7, 497.5, 254.9, 500, 257.5, 499.4,
    260.1, 500, 225.4, 448.7, 227.6, 447.3, 229.9, 445.9, 231.7, 444.5, 233.7, 443, 235.8, 441.4, 237.8, 439.8, 239.5, 437.9,
    241.3, 436.1, 242.9, 434, 244.3, 432, 245.6, 430, 247.2, 427.9, 248.3, 425.7, 249.4, 423.5, 250.4, 421.4, 251, 419,
    251.8, 416.6, 252.7, 414.1, 253.5, 411.7, 253.9, 409.6, 258.6, 497, 262.5, 498.2, 265.5, 497.4, 268.9, 496.6, 272.2, 498,
    277.3, 495.5, 285.6, 496.9, 290.5, 497.5, 257, 494.3, 260.9, 495.2, 263.8, 494.5, 266.7, 493.1, 269.9, 491.7, 273.2, 494.4,
    280.8, 492.5, 285.7, 491.4, 290.5, 492.5, 259.4, 492.7, 256.3, 491.8, 264.4, 490.6, 258.4, 489.4, 261.4, 489.6, 272.7, 488.7,
    276.8, 490.1, 267.3, 488, 264, 487.4, 255.5, 488.2, 258.2, 486.6, 261, 486.6, 280.7, 487, 285.7, 486.2, 290.5, 487.4,
    276.3, 485.2, 266.3, 484.5, 263, 483.9, 255.5, 485.5, 272.2, 483.6, 257.3, 483.3, 260.1, 482.9, 290.7, 482.3, 254.3, 482.5,
    262.4, 480.8, 265.8, 480.5, 256.6, 480, 259.6, 479.6, 281.2, 480.1, 286.2, 480, 276.5, 478.7, 253.2, 479.6, 255.5, 476.8,
    258.4, 476.3, 263.7, 476.8, 270.5, 476.9, 290.3, 476.4, 251.4, 476.4, 254.3, 474.2, 257.2, 473.6, 261, 474.6, 273.6, 473.8,
    279.9, 474.6, 285.7, 474.3, 251.8, 473.9, 264, 472.8, 269.1, 471.9, 252.7, 471.1, 258.7, 470.8, 290.2, 471.2, 248.8, 469.9,
    255.3, 469.4, 261.8, 469.5, 276.3, 469.9, 281.4, 469.9, 251, 468.1, 257.9, 467.7, 271.2, 468.2, 266.8, 467.3, 246.4, 466.6,
    253.5, 466.4, 285.4, 466.9, 249.2, 465.1, 260.6, 465.4, 255.7, 464.3, 244.9, 464.3, 274.1, 464.3, 250.9, 463, 269.1, 463,
    280.7, 463.3, 247.2, 462.5, 242.5, 463, 253.5, 461, 258.2, 461.9, 264.5, 461.6, 285.1, 460.9, 245.2, 460.3, 248.4, 459.9,
    276.5, 459.9, 271.6, 459, 240.9, 459.8, 255.6, 458.3, 251.1, 458.2, 266.9, 457.9, 242.6, 457.6, 245.5, 456.8, 258.8, 456.5,
    262.6, 456.6, 280.3, 456.7, 248.4, 455.6, 252.9, 455.2, 240.4, 455.6, 285.1, 455, 238.4, 453.8, 243.3, 454.5, 271.2, 453.8,
    276.1, 454, 246.2, 453.3, 249.6, 452.6, 256.2, 453.5, 266.5, 451.8, 235.6, 451.7, 240.9, 452, 232.7, 452.8, 230.3, 451.5,
    262, 450.2, 280, 449.9, 285, 449.9, 252.4, 449.7, 248.2, 449.4, 243.9, 449.3, 233.5, 449.3, 239.7, 449, 230.1, 448.7,
    270.2, 448.3, 275.1, 448.8, 258.6, 448, 237.4, 446.8, 241.8, 446.8, 246.3, 446.7, 232.8, 446.8, 251.4, 446.2, 255.2, 446.3,
    265.6, 446.2, 278.8, 444.6, 285, 444.9, 261.4, 444.6, 235.7, 444.6, 240.2, 444.2, 244.6, 444.1, 248.6, 444.2, 274, 443.2,
    269.3, 441.9, 258.2, 442.1, 254.1, 442, 250.9, 441.7, 247, 441.5, 242.3, 442.2, 237.8, 442.2, 264.9, 440.6, 282.1, 440.7,
    240, 440.2, 244.2, 440.4, 249.2, 438.9, 256.9, 438.7, 261.5, 438.5, 277.5, 438.8, 272.5, 438.4, 242.5, 438.1, 246.5, 437.9,
    253.6, 438.1, 268.3, 436.4, 244.1, 436.5, 248.6, 435.4, 251.4, 435.7, 255.9, 435.2, 259.2, 435.7, 264.1, 434.9, 285.1, 436.1,
    242.5, 434.9, 246.4, 433.8, 253.2, 433.5, 275.9, 433.8, 281, 433.4, 271.4, 432.4, 250.4, 432.6, 257.9, 431.4, 261.4, 430.8,
    247.8, 431.2, 254.7, 430.8, 252, 430, 287.3, 430.7, 267.2, 430.5, 278.9, 428.8, 249.4, 428.8, 256.1, 427.7, 259.1, 428.4,
    262.9, 427.4, 274.5, 426.7, 283.8, 427.1, 290.3, 426.2, 251, 425.9, 253.5, 426.3, 270.3, 425.1, 257.2, 424.9, 260.2, 425.3,
    249.8, 423.9, 252.1, 423.5, 254.7, 423.3, 265.3, 424, 280.7, 423.2, 262.4, 422.1, 259.2, 421.4, 276.1, 421.4, 285.4, 421.4,
    253.7, 420.2, 256.3, 420.6, 266.2, 419.8, 272.2, 419.2, 290.1, 419.5, 263.1, 418.8, 260.2, 417.4, 251.4, 417.8, 254.3, 417.4,
    257.3, 416.9, 275.5, 415.3, 280.2, 415.6, 285.2, 415.6, 290.1, 414.5, 263.6, 415.3, 267.1, 414.9, 271.4, 413.7, 253.1, 414.5,
    255.5, 414.5, 260.8, 414.3, 257.9, 413.6, 254.3, 412.1, 275.6, 409.9, 280.3, 410.4, 285.2, 409.9, 264.5, 411.3, 267.7, 411.1,
    271.9, 409.2, 261.4, 410.9, 258.5, 410.3, 255.1, 409.6, 256.7, 408.4,
]

bottom_left = [
    201.8, 245, 204.2, 245.3, 206.7, 245.5, 209.1, 245.8, 211.7, 246.2, 214.2, 246.8, 216.6, 247.5, 219, 248.3, 221.3, 249.1,
    223.5, 250.2, 225.6, 251.2, 227.8, 252.6, 229.9, 253.8, 231.9, 255.3, 233.8, 256.8, 235.8, 258.1, 244.9, 201.1, 245.1, 203.5,
    245.3, 206.2, 245.7, 208.6, 246.4, 211.1, 247, 213.5, 247.8, 216, 248.8, 218.4, 249.6, 220.9, 250.6, 223.3, 251.8, 225.5,
    253.1, 227.6, 254.3, 229.8, 255.7, 231.8, 257.1, 233.7, 258.8, 235.8, 260.4, 237.5, 262, 239.2, 263.6, 240.8, 265.7, 242.4,
    267.7, 244.2, 269.8, 245.7, 271.8, 246.9, 273.8, 248.3, 276, 249.3, 278.1, 250.6, 280.3, 251.5, 282.5, 252.4, 284.8, 253.2,
    287.1, 253.8, 289.5, 254.2, 291.7, 254.6, 200.2, 242.6, 201.8, 242.4, 203.8, 242.4, 205.9, 242.8, 202.2, 240.1, 205.5, 240.3,
    208.9, 243.2, 210.3, 241, 212.4, 243.9, 214.2, 241.6, 215.2, 244.9, 217.4, 242.8, 220.1, 244, 223.6, 245, 218.3, 240.1,
    221.9, 241.4, 225.1, 242.6, 227, 246.5, 230.5, 245.3, 227.8, 243.6, 230.3, 241.8, 233.4, 243.6, 231.1, 251.8, 233.5, 253.4,
    235.8, 255.4, 238, 253.4, 240.4, 255.9, 241.4, 253.2, 244.4, 253.8, 247.4, 252.7, 250.9, 253.2, 233.1, 249.6, 235.6, 251.4,
    239.3, 250.7, 243, 250.3, 246.2, 249.4, 229.9, 248.1, 233.4, 246.7, 236.8, 248.7, 239.5, 247.3, 242.8, 246.3, 239.7, 243.8,
    236.4, 241.9, 246.5, 243.8, 250.1, 246.4, 253.2, 249.6, 256.3, 248.5, 259.2, 247.5, 253.3, 245.4, 256.3, 245.3, 258.8, 243.6,
    261.6, 245.7, 263.6, 247.7, 251.2, 242.8, 247.9, 240.6, 253.2, 240.8, 256.3, 241, 259.6, 241.2, 262, 242.8, 243.3, 240.1,
    250.2, 238.5, 245.9, 237.9, 239.9, 238.7, 236.4, 238.3, 232.6, 239.2, 226.6, 239.7, 214.6, 238.8, 210.7, 237.9, 207.5, 238,
    204.1, 237.7, 200.7, 237.7, 221.6, 238.4, 218.7, 236.9, 224.9, 236.7, 228.9, 237.2, 233.6, 235.7, 237.6, 234.7, 241.2, 234.6,
    244.6, 234.8, 248, 235.4, 252.4, 236.5, 255.5, 235.5, 204, 234.6, 207.6, 234.9, 211.4, 234.8, 215.1, 235.6, 221.2, 234.5,
    217.2, 233, 224.4, 233, 228.6, 233.5, 250.2, 233.5, 252.8, 232.7, 246.1, 232.2, 242.9, 231.8, 239.2, 231.4, 235.6, 231.3,
    200.6, 231.5, 204.8, 231.3, 209.1, 231.9, 213, 231.8, 220.1, 230.7, 248.7, 231, 216, 229.6, 207.3, 228.7, 211.8, 228.3,
    224.6, 229.2, 229.9, 228.7, 244.4, 228.8, 240.6, 228.3, 237.3, 227.9, 233.6, 227.7, 247.4, 228.3, 251.4, 227.4, 201.4, 226.6,
    219.9, 226.7, 242.8, 226, 245.8, 225.6, 215.9, 225.7, 206.3, 225.1, 211.1, 224.4, 239.5, 225.2, 248.4, 224.8, 227.4, 224.2,
    231.4, 224.4, 235.1, 223.8, 222.7, 223.4, 202.8, 222.5, 241.4, 222.7, 244.4, 222.7, 247.4, 222.1, 217.1, 221.4, 237.4, 221.4,
    211.1, 220.4, 225.6, 220.2, 240.3, 219.9, 243.3, 219.5, 245.9, 219.2, 206.7, 219.1, 229.5, 219.1, 233.1, 218.5, 201.1, 218.1,
    221.3, 217.5, 236.5, 217.7, 242.3, 216.8, 244.9, 216, 239.2, 216.5, 247.4, 216.4, 215.7, 216.6, 205.4, 214.3, 210.9, 215.1,
    228.6, 215.1, 224.7, 213.8, 219.7, 213.1, 232.1, 214.1, 235.5, 213.9, 238.7, 213.6, 241.7, 214.3, 244.4, 213.8, 215.2, 211.2,
    210.2, 210.1, 202.8, 210, 228.1, 210.3, 231.7, 210.1, 235.1, 209.5, 238.2, 209.8, 241, 210.7, 243.7, 210.7, 221, 208.1,
    240.4, 207.3, 243.3, 207.6, 208, 205.6, 213, 205, 218, 204.5, 227.7, 205.9, 231.3, 206.1, 234.7, 206.1, 237.8, 206.6,
    204.3, 202.4, 222.5, 202.8, 240, 204.3, 242.7, 204, 231, 201.1, 234.3, 202.2, 237.3, 203.1, 239.8, 200.6, 242.6, 200.6,
    200, 200, 248.6, 255.9, 253.5, 256.9, 258.8, 255, 262.7, 257.9, 264.9, 255.2, 268.1, 257.5, 270.3, 255.3, 274.4, 254.2,
    277.5, 255.4, 280.7, 257.1, 283.6, 257.9, 287.1, 258.3, 264.5, 251.8, 266.9, 253, 271.8, 252.6, 268.9, 251, 273.4, 250.6,
    277.3, 252.2, 280.7, 254.6, 284, 255.5, 287.3, 255.9, 290.5, 256.7, 263.6, 249.3, 265.9, 248.1, 268.5, 248.1, 271.4, 249.3,
    266.5, 245.7, 264.9, 244.5, 268.5, 246.5, 257.5, 238.8, 254.7, 237.5,
]

x_ticks = [0.2, 0.3, 0.4, 0.5]
y_ticks = [0.2, 0.3, 0.4, 0.5]
tick_labels = ["0.2", "0.3", "0.4", "0.5"]

# build the lattice rows
lat_x = []
lat_y = []
for yy, first, last in zip(lattice_y, row_first, row_last):
    for xx in lattice_x:
        if first <= xx <= last:
            lat_x.append(xx)
            lat_y.append(yy)

parts = [row_290, right_upper, right_hole_edge, right_middle, right_lower, cusp_450, cusp_350,
         left_hole, cusp_left_350, cusp_left_450, bottom_left]
pts = np.concatenate([np.array(p, dtype=float) for p in parts]).reshape(-1, 2)
xs = np.concatenate([lat_x, pts[:, 0]]) / 1000.0
ys = np.concatenate([lat_y, pts[:, 1]]) / 1000.0

plt.rcParams['font.family'] = ['DejaVu Serif']

W, H = 1603, 1516
fig = plt.figure(figsize=(W / 100, H / 100), dpi=100)
ax = fig.add_axes([249.5 / W, (H - 1334) / H, (1491.3 - 249.5) / W, (1334 - 92.3) / H])

ax.scatter(xs, ys, s=72, c='black', linewidths=0, clip_on=False, zorder=3)

ax.set_xlim(0.19841, 0.50154)
ax.set_ylim(0.19836, 0.50146)
ax.set_xticks(x_ticks)
ax.set_xticklabels(tick_labels)
ax.set_yticks(y_ticks)
ax.set_yticklabels(tick_labels, va='center')
ax.tick_params(direction='inout', length=28, width=0.7, color='#333333', top=True, right=True, labelsize=44)
ax.tick_params(axis='x', pad=7)
ax.tick_params(axis='y', pad=2)
for spine in ax.spines.values():
    spine.set_linewidth(0.8)
    spine.set_color('#333333')

ax.set_xlabel('x', fontsize=44)
ax.xaxis.set_label_coords(0.5, -0.054)
ax.set_ylabel('y', fontsize=44, rotation=0, ha='center', va='center')
ax.yaxis.set_label_coords(-0.1275, 0.496)

fig.savefig('out.png', dpi=100)
